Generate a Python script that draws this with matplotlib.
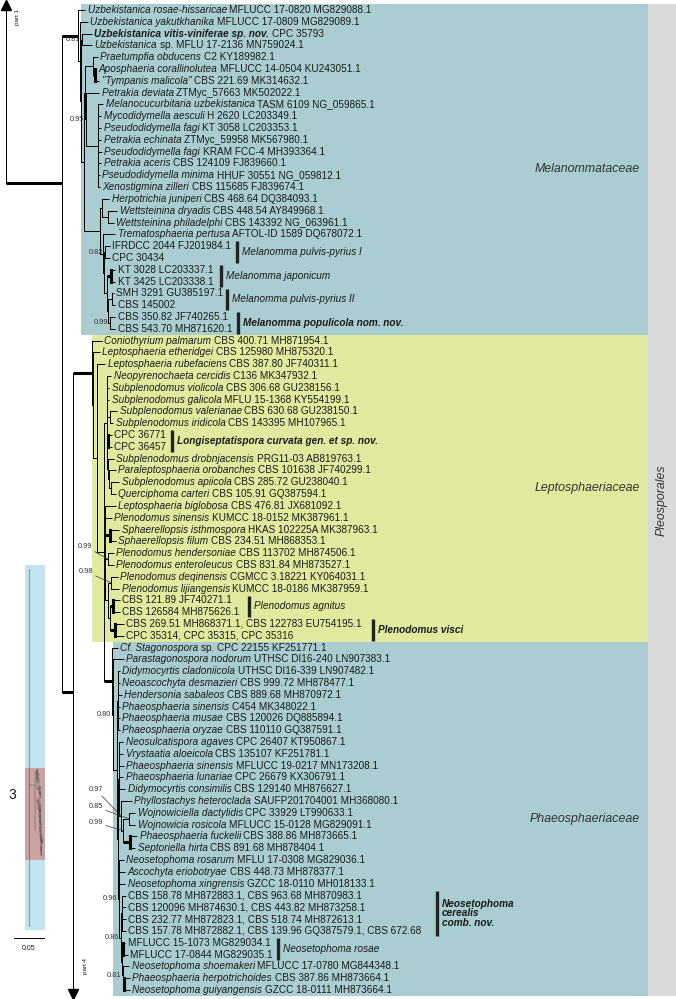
import re
import matplotlib
matplotlib.use("Agg")
import matplotlib.pyplot as plt
from matplotlib.patches import Rectangle

plt.rcParams['font.family'] = ['Liberation Sans', 'DejaVu Sans']

# ---- tree data (Newick, branch lengths in 1e-3 subst./site, node labels = posterior probabilities) ----
melanommataceae = ("(t1:7,(t2:8,((t3:10,t4:10)0.81:1,(((t5:5,(t6:1,t7:4)1:2):8,"
                   "(t8:13,(t9:5,t10:3,t11:3,t12:3,t13:4,t14:3,t15:2,t16:2):12)0.95:1):1,"
                   "((t17:7,(t18:9,t19:6):6):2,(t20:12,((t21:5,t22:5)0.82:1,((t23:4,t24:4)1:4,"
                   "((t25:2,t26:3):4,(t27:5,t28:5)0.99:2):1):3):1):3):16):3):1):2)1:16")
phaeosphaeriaceae = ("(t55:6,(t56:11,((t57:2,t58:2,t59:4,t60:2,t61:2,t62:2):1,"
                     "((t63:4.5,t64:4.5,t65:5.5,t66:4.5,t67:6.5,"
                     "(t68:11,((t69:6,t70:6)0.85:6,(t71:7,t72:5)1:7)0.99:2)0.97:2.5):0.5,"
                     "(t73:5,t74:6,t75:6,((t76:4,t77:4,t78:4,t79:4):1,((t80:2,t81:5)1:1.5,"
                     "(t82:6.5,(t83:6,t84:6)1:1.5)0.81:1):0.5)0.86:2)0.96:1):1):4)0.80:1)1:8")
leptosphaeriaceae = ("(t29:10,(t30:7,(t31:8,((t32:4,t33:2,t34:2,(t35:7,t36:3):3,(t37:4,t38:4)1:1,"
                     "(t39:6.5,(t40:7.5,(t41:8.5,t42:5.5):2):1):0.5):3,"
                     "(t43:11,t44:7,(t45:9,t46:6)1:5,(t47:6,t48:6)0.99:3,((t49:7,t50:8)0.98:3,"
                     "((t51:7,t52:7)1:3,(t53:9,t54:9)1:5):2):3):1,"
                     + phaeosphaeriaceae + "):7):4):1)1:19")
tree = "(part1:0,(" + melanommataceae + ",(" + leptosphaeriaceae + ",part4:0)1:11)1:56);"

leaf_labels = [
    "*Uzbekistanica rosae-hissaricae* MFLUCC 17-0820 MG829088.1",
    "*Uzbekistanica yakutkhanika* MFLUCC 17-0809 MG829089.1",
    "**Uzbekistanica vitis-viniferae sp. nov.** CPC 35793",
    "*Uzbekistanica* sp. MFLU 17-2136 MN759024.1",
    "*Praetumpfia obducens* C2 KY189982.1",
    "*Aposphaeria corallinolutea* MFLUCC 14-0504 KU243051.1",
    "*\"Tympanis malicola\"* CBS 221.69 MK314632.1",
    "*Petrakia deviata* ZTMyc_57663 MK502022.1",
    "*Melanocucurbitaria uzbekistanica* TASM 6109 NG_059865.1",
    "*Mycodidymella aesculi* H 2620 LC203349.1",
    "*Pseudodidymella fagi* KT 3058 LC203353.1",
    "*Petrakia echinata* ZTMyc_59958 MK567980.1",
    "*Pseudodidymella fagi* KRAM FCC-4 MH393364.1",
    "*Petrakia aceris* CBS 124109 FJ839660.1",
    "*Pseudodidymella minima* HHUF 30551 NG_059812.1",
    "*Xenostigmina zilleri* CBS 115685 FJ839674.1",
    "*Herpotrichia juniperi* CBS 468.64 DQ384093.1",
    "*Wettsteinina dryadis* CBS 448.54 AY849968.1",
    "*Wettsteinina philadelphi* CBS 143392 NG_063961.1",
    "*Trematosphaeria pertusa* AFTOL-ID 1589 DQ678072.1",
    "IFRDCC 2044 FJ201984.1",
    "CPC 30434",
    "KT 3028 LC203337.1",
    "KT 3425 LC203338.1",
    "SMH 3291 GU385197.1",
    "CBS 145002",
    "CBS 350.82 JF740265.1",
    "CBS 543.70 MH871620.1",
    "*Coniothyrium palmarum* CBS 400.71 MH871954.1",
    "*Leptosphaeria etheridgei* CBS 125980 MH875320.1",
    "*Leptosphaeria rubefaciens* CBS 387.80 JF740311.1",
    "*Neopyrenochaeta cercidis* C136 MK347932.1",
    "*Subplenodomus violicola* CBS 306.68 GU238156.1",
    "*Subplenodomus galicola* MFLU 15-1368 KY554199.1",
    "*Subplenodomus valerianae* CBS 630.68 GU238150.1",
    "*Subplenodomus iridicola* CBS 143395 MH107965.1",
    "CPC 36771",
    "CPC 36457",
    "*Subplenodomus drobnjacensis* PRG11-03 AB819763.1",
    "*Paraleptosphaeria orobanches* CBS 101638 JF740299.1",
    "*Subplenodomus apiicola* CBS 285.72 GU238040.1",
    "*Querciphoma carteri* CBS 105.91 GQ387594.1",
    "*Leptosphaeria biglobosa* CBS 476.81 JX681092.1",
    "*Plenodomus sinensis* KUMCC 18-0152 MK387961.1",
    "*Sphaerellopsis isthmospora* HKAS 102225A MK387963.1",
    "*Sphaerellopsis filum* CBS 234.51 MH868353.1",
    "*Plenodomus hendersoniae* CBS 113702 MH874506.1",
    "*Plenodomus enteroleucus* CBS 831.84 MH873527.1",
    "*Plenodomus deqinensis* CGMCC 3.18221 KY064031.1",
    "*Plenodomus lijiangensis* KUMCC 18-0186 MK387959.1",
    "CBS 121.89 JF740271.1",
    "CBS 126584 MH875626.1",
    "CBS 269.51 MH868371.1, CBS 122783 EU754195.1",
    "CPC 35314, CPC 35315, CPC 35316",
    "*Cf. Stagonospora* sp. CPC 22155 KF251771.1",
    "*Parastagonospora nodorum* UTHSC DI16-240 LN907383.1",
    "*Didymocyrtis cladoniicola* UTHSC DI16-339 LN907482.1",
    "*Neoascochyta desmazieri* CBS 999.72 MH878477.1",
    "*Hendersonia sabaleos* CBS 889.68 MH870972.1",
    "*Phaeosphaeria sinensis* C454 MK348022.1",
    "*Phaeosphaeria musae* CBS 120026 DQ885894.1",
    "*Phaeosphaeria oryzae* CBS 110110 GQ387591.1",
    "*Neosulcatispora agaves* CPC 26407 KT950867.1",
    "*Vrystaatia aloeicola* CBS 135107 KF251781.1",
    "*Phaeosphaeria sinensis* MFLUCC 19-0217 MN173208.1",
    "*Phaeosphaeria lunariae* CPC 26679 KX306791.1",
    "*Didymocyrtis consimilis* CBS 129140 MH876627.1",
    "*Phyllostachys heteroclada* SAUFP201704001 MH368080.1",
    "*Wojnowiciella dactylidis* CPC 33929 LT990633.1",
    "*Wojnowicia rosicola* MFLUCC 15-0128 MG829091.1",
    "*Phaeosphaeria fuckelii* CBS 388.86 MH873665.1",
    "*Septoriella hirta* CBS 891.68 MH878404.1",
    "*Neosetophoma rosarum* MFLU 17-0308 MG829036.1",
    "*Ascochyta eriobotryae* CBS 448.73 MH878377.1",
    "*Neosetophoma xingrensis* GZCC 18-0110 MH018133.1",
    "CBS 158.78 MH872883.1, CBS 963.68 MH870983.1",
    "CBS 120096 MH874630.1, CBS 443.82 MH873258.1",
    "CBS 232.77 MH872823.1, CBS 518.74 MH872613.1",
    "CBS 157.78 MH872882.1, CBS 139.96 GQ387579.1, CBS 672.68",
    "MFLUCC 15-1073 MG829034.1",
    "MFLUCC 17-0844 MG829035.1",
    "*Neosetophoma shoemakeri* MFLUCC 17-0780 MG844348.1",
    "*Phaeosphaeria herpotrichoides* CBS 387.86 MH873664.1",
    "*Neosetophoma guiyangensis* GZCC 18-0111 MH873664.1",
]

families = ["Melanommataceae", "Leptosphaeriaceae", "Phaeosphaeriaceae"]
family_first = [1, 29, 55]
family_last = [28, 54, 84]
order_name = "Pleosporales"

clade_first = [21, 23, 25, 27, 37, 51, 53, 76, 80]
clade_last = [22, 24, 26, 28, 38, 52, 54, 79, 81]
clade_names = ["*Melanomma pulvis-pyrius I*", "*Melanomma japonicum*",
               "*Melanomma pulvis-pyrius II*", "**Melanomma populicola nom. nov.**",
               "**Longiseptatispora curvata gen. et sp. nov.**", "*Plenodomus agnitus*",
               "**Plenodomus visci**", "**Neosetophoma\ncerealis\ncomb. nov.**",
               "*Neosetophoma rosae*"]

# ---- layout / style ----
ROOT_X = 6            # pixel position of the root
ROW = 11.807          # pixels per leaf row
offpage = {"part1": -30, "part4": 84.8}
node_rows = {(1, None): 14.65}   # cut point of the split tree, drawn by hand in the figure
family_colors = ["#a9cdd1", "#e1e99f", "#a9cdd1"]
family_left = [81, 92, 113]
box_right = 648
bar_x = [237, 221, 227, 238, 172, 249, 373, 437, 278]
# support labels that sit away from their node (offset of label end, pixels)
leader = {(47, 48): (-16, -13), (49, 50): (-18, -11), (68, 72): (-18, -26),
          (69, 70): (-26, -12), (69, 72): (-20, -8)}
TXT = "#1a1a1a"
FS = 7.2


def parse_newick(s):
    toks = re.findall(r"[(),]|[^(),;]+", s)
    pos = 0

    def node():
        nonlocal pos
        kids = []
        if toks[pos] == "(":
            pos += 1
            kids.append(node())
            while toks[pos] == ",":
                pos += 1
                kids.append(node())
            pos += 1
        name, length = "", 0.0
        if pos < len(toks) and toks[pos] not in ("(", ")", ","):
            name, _, ln = toks[pos].partition(":")
            length = float(ln) if ln else 0.0
            pos += 1
        return {"name": name, "len": length, "kids": kids}
    return node()


def layout(n, x0):
    n["x"] = x0 + n["len"]
    if n["kids"]:
        for k in n["kids"]:
            layout(k, n["x"])
        n["span"] = (n["kids"][0]["span"][0], n["kids"][-1]["span"][1])
        n["y"] = node_rows.get(n["span"], (n["kids"][0]["y"] + n["kids"][-1]["y"]) / 2)
    else:
        if n["name"] in offpage:
            n["y"] = offpage[n["name"]]
            n["span"] = (None, None)
        else:
            i = int(n["name"][1:])
            n["y"] = i - 1
            n["span"] = (i, i)


def walk(n):
    yield n
    for k in n["kids"]:
        yield from walk(k)


def segments(s):
    out = []
    for part in re.split(r"(\*\*.+?\*\*|\*.+?\*)", s, flags=re.S):
        if not part.strip():
            continue
        if part.startswith("**"):
            out.append((part[2:-2], "italic", "bold"))
        elif part.startswith("*"):
            out.append((part[1:-1], "italic", "normal"))
        else:
            out.append((part.strip(), "normal", "normal"))
    return out


def rich_text(ax, x, y, s, fs=FS, dx=2.5, **kw):
    prev = None
    for txt, style, weight in segments(s):
        if prev is None:
            prev = ax.annotate(txt, xy=(x, y), xytext=(dx, 0), textcoords="offset pixels",
                               va="center", ha="left", fontsize=fs, style=style,
                               weight=weight, color=TXT, **kw)
        else:
            prev = ax.annotate(txt, xy=(1, 0), xycoords=prev, xytext=(2.6, 0),
                               textcoords="offset pixels", va="bottom", ha="left",
                               fontsize=fs, style=style, weight=weight, color=TXT, **kw)


fig = plt.figure(figsize=(6.76, 9.99), dpi=100)
ax = fig.add_axes([0, 0, 1, 1])
ax.set_xlim(0, 676)
ax.set_ylim((999 - 10) / ROW, -10 / ROW)
ax.axis("off")

# coloured family boxes and order strip
for name, a, b, col, left in zip(families, family_first, family_last, family_colors, family_left):
    ax.add_patch(Rectangle((left, a - 1.5), box_right - left, b - a + 1, color=col, lw=0, zorder=0))
    ax.text(640, (a + b) / 2 - 1, name, style="italic", fontsize=8.9, color="#333333",
            ha="right", va="center")
ax.add_patch(Rectangle((box_right, -0.5), 676 - box_right, 84, color="#d9d9d9", lw=0, zorder=0))
ax.text(662, 41.5, order_name, rotation=90, style="italic", fontsize=8.9, color="#333333",
        ha="center", va="center")

# tree
root = parse_newick(tree)
layout(root, ROOT_X)
for n in walk(root):
    thick = n["name"] == "1"
    for k in n["kids"]:
        if k["len"] > 0:
            kt = k["name"] == "1"
            ax.plot([n["x"], k["x"]], [k["y"], k["y"]], color="black",
                    lw=2.2 if kt else 0.7, solid_capstyle="butt", zorder=3)
    if n["kids"]:
        y0, y1 = n["kids"][0]["y"], n["kids"][-1]["y"]
        cherry = all(not k["kids"] for k in n["kids"]) and len(n["kids"]) == 2
        ax.plot([n["x"], n["x"]], [y0, y1], color="black",
                lw=2.2 if (thick and cherry) else 0.7, solid_capstyle="projecting", zorder=3)
        lab = n["name"]
        if lab and lab != "1":
            if n["span"] in leader:
                dx, dy = leader[n["span"]]
                ax.annotate(lab, xy=(n["x"], n["y"]), xytext=(dx, -dy),
                            textcoords="offset pixels", fontsize=5.3, color="#333333",
                            ha="right", va="center",
                            arrowprops=dict(arrowstyle="-", lw=0.5, color="#333333",
                                            shrinkA=0, shrinkB=0))
            else:
                ax.annotate(lab, xy=(n["x"], n["y"]), xytext=(-1.5, 0),
                            textcoords="offset pixels", fontsize=5.3, color="#333333",
                            ha="right", va="center")
    elif n["name"] not in offpage:
        rich_text(ax, n["x"], n["y"], leaf_labels[int(n["name"][1:]) - 1])

# off-page continuation arrows
for n in walk(root):
    for k in n["kids"]:
        if k["name"] == "part1":
            ax.plot(n["x"], -0.45, marker="^", ms=7, color="black", zorder=4)
            ax.text(n["x"] + 12, 0.6, "part 1", rotation=90, fontsize=4.5, ha="center",
                    va="center", color=TXT)
        if k["name"] == "part4":
            ax.plot(n["x"], 83.3, marker="v", ms=7, color="black", zorder=4)
            ax.text(n["x"] + 12, 81.0, "part 4", rotation=90, fontsize=4.5, ha="center",
                    va="center", color=TXT)

# clade bars
for a, b, name, bx in zip(clade_first, clade_last, clade_names, bar_x):
    ax.plot([bx, bx], [a - 1.4, b - 0.55], color="#222222", lw=2.4, solid_capstyle="butt")
    rich_text(ax, bx, (a + b) / 2 - 1, name, dx=5, linespacing=0.95)

# overview inset: whole-tree outline, this part highlighted
ins = fig.add_axes([25 / 676, 1 - 930 / 999, 20 / 676, 365 / 999])
ins.set_xlim(0, 1)
ins.set_ylim(1, 0)
ins.axis("off")
ins.add_patch(Rectangle((0, 0), 1, 1, color="#c3e3ee", lw=0, zorder=0))
ins.add_patch(Rectangle((0, 0.555), 1, 0.252, color="#c9a3a3", lw=0, zorder=1))
ins.plot([0.2, 0.2], [0.01, 0.99], color="#555555", lw=0.4)
for n in walk(root):
    if n["name"] in offpage:
        continue
    sx = lambda v: 0.2 + (v - ROOT_X) / 140 * 0.75
    sy = lambda v: 0.56 + v / 84 * 0.24
    for k in n["kids"]:
        if k["name"] not in offpage:
            ins.plot([sx(n["x"]), sx(k["x"])], [sy(k["y"])] * 2, color="#444444", lw=0.3)
    if n["kids"]:
        ys = [k["y"] for k in n["kids"] if k["name"] not in offpage]
        ins.plot([sx(n["x"])] * 2, [sy(min(ys)), sy(max(ys))], color="#444444", lw=0.3)

ax.text(12, (795 - 10) / ROW, "3", fontsize=10, ha="center", va="center", color=TXT)
ax.plot([14, 44], [(938 - 10) / ROW] * 2, color="black", lw=0.7)
ax.text(29, (948 - 10) / ROW, "0.05", fontsize=5, ha="center", va="center", color=TXT)

fig.savefig("out.png", dpi=100)
